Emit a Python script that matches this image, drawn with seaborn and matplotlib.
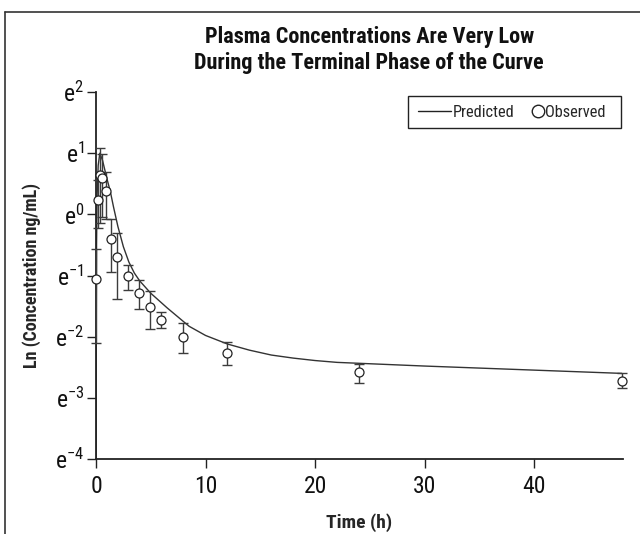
import matplotlib
matplotlib.use("Agg")
import matplotlib.pyplot as plt
import seaborn as sns
import numpy as np
import pandas as pd
from matplotlib.lines import Line2D
from matplotlib.patches import Rectangle
from matplotlib.legend_handler import HandlerLine2D
from matplotlib import font_manager

# ---------------- data (natural-log concentration units) ----------------
pred_time = [0, 0.02, 0.05, 0.1, 0.2, 0.35, 0.6, 1.0, 1.3, 1.6, 2.0, 2.5, 3.0, 3.5, 4.0,
             5.0, 6.5, 8.5, 10, 12, 14, 16, 18, 20, 22, 26, 30, 36, 42, 48]
pred_ln = [-8, -2.0, -0.5, 0.3, 0.8, 1.0, 0.88, 0.58, 0.38, 0.12, -0.2, -0.53, -0.78,
           -0.96, -1.09, -1.29, -1.53, -1.83, -1.98, -2.12, -2.22, -2.30, -2.35, -2.39,
           -2.42, -2.45, -2.48, -2.52, -2.56, -2.60]

obs_time = [0, 0.15, 0.35, 0.55, 0.9, 1.4, 1.9, 2.9, 3.9, 4.9, 5.9, 7.9, 12, 24, 48]
obs_ln = [-1.06, 0.24, 0.65, 0.60, 0.38, -0.41, -0.70, -1.00, -1.28, -1.51, -1.72, -2.00,
          -2.26, -2.58, -2.72]
obs_lo_ln = [-2.11, -0.23, -0.14, -0.05, -0.07, -0.95, -1.39, -1.24, -1.54, -1.88, -1.85,
             -2.26, -2.47, -2.75, -2.84]
obs_hi_ln = [-0.56, 0.56, 1.09, 0.99, 0.69, -0.07, -0.30, -0.82, -1.08, -1.26, -1.60,
             -1.78, -2.09, -2.44, -2.60]

ytick_vals = [2, 1, 0, -1, -2, -3, -4]
xtick_vals = [0, 10, 20, 30, 40]
title_text = "Plasma Concentrations Are Very Low\nDuring the Terminal Phase of the Curve"
xlabel_text = "Time (h)"
ylabel_text = "Ln (Concentration ng/mL)"
legend_labels = ["Predicted", "Observed"]

# ---------------- style ----------------
sns.set_theme(style="ticks")
available = {f.name for f in font_manager.fontManager.ttflist}
candidates = ["Liberation Sans Narrow", "Roboto Condensed", "DejaVu Sans Condensed",
              "Open Sans Condensed", "Roboto", "Liberation Sans", "DejaVu Sans"]
FAM = [c for c in candidates if c in available] or ["DejaVu Sans"]
plt.rcParams["font.family"] = FAM
plt.rcParams["axes.unicode_minus"] = True

W, H = 640, 534
fig = plt.figure(figsize=(W / 100, H / 100), dpi=100)
ax = fig.add_axes([0.15, 0.1404, 0.8234, 0.6873])

pred_df = pd.DataFrame({"t": pred_time, "ln": pred_ln})
obs_df = pd.DataFrame({"t": obs_time, "ln": obs_ln, "lo": obs_lo_ln, "hi": obs_hi_ln})

sns.lineplot(data=pred_df, x="t", y="ln", ax=ax, color="#333333", linewidth=1.0,
             sort=False, zorder=2)

yerr = np.vstack([obs_df["ln"] - obs_df["lo"], obs_df["hi"] - obs_df["ln"]])
ax.errorbar(obs_df["t"], obs_df["ln"], yerr=yerr, fmt="none", ecolor="#3c3c3c",
            elinewidth=1.0, capsize=3.8, capthick=1.0, zorder=3, clip_on=False)

sns.scatterplot(data=obs_df, x="t", y="ln", ax=ax, marker="o", s=42,
                facecolor="white", edgecolor="#222222", linewidth=0.9,
                zorder=4, clip_on=False, legend=False)

ax.set_xlim(0, 48.1)
ax.set_ylim(-4, 2)
ax.set_xticks(xtick_vals)
ax.set_xticklabels([str(v) for v in xtick_vals], fontsize=17)
ax.set_yticks(ytick_vals)
ax.set_yticklabels([r"$\mathregular{e^{%d}}$" % v if v >= 0 else
                    r"$\mathregular{e^{-%d}}$" % (-v) for v in ytick_vals], fontsize=17)
for s in ["top", "right"]:
    ax.spines[s].set_visible(False)
for s in ["left", "bottom"]:
    ax.spines[s].set_linewidth(1.3)
    ax.spines[s].set_color("#222222")
ax.tick_params(axis="both", direction="out", length=6.5, width=1.0, color="#222222",
               labelcolor="#111111")
ax.tick_params(axis="x", pad=5)
ax.tick_params(axis="y", pad=2)

ax.set_xlabel(xlabel_text, fontsize=14, fontweight="bold", labelpad=11)
ax.set_ylabel(ylabel_text, fontsize=13, fontweight="bold", labelpad=10)

fig.text(0.577, 0.906, title_text, ha="center", va="center", fontsize=16,
         fontweight="bold", linespacing=1.25, color="#111111")


class RightMarkerHandler(HandlerLine2D):
    """Single legend marker placed near the right end of the handle area."""
    def get_xdata(self, legend, xdescent, ydescent, width, height, fontsize):
        b = width - xdescent
        m = b - 0.3 * fontsize
        return np.array([2 * m - b, b]), np.array([m])


line_handle = Line2D([0], [0], color="#222222", lw=1.0)
obs_handle = Line2D([0], [0], marker="o", linestyle="none", markerfacecolor="white",
                    markeredgecolor="#222222", markersize=9.0, markeredgewidth=1.0)
leg = ax.legend([line_handle, obs_handle], legend_labels, ncol=2, loc="center left",
                bbox_to_anchor=(418 / W, 1 - 112 / H),
                bbox_transform=fig.transFigure, fontsize=11.8, frameon=False,
                handlelength=2.0, handletextpad=0.12, columnspacing=-0.26,
                borderpad=0.0, borderaxespad=0.0,
                handler_map={obs_handle: RightMarkerHandler(numpoints=1)})

# legend frame
fig.add_artist(Rectangle((408 / W, 1 - 128 / H), 213 / W, 32 / H,
                         transform=fig.transFigure, fill=False,
                         edgecolor="#222222", linewidth=1.0))

# figure border (top and left)
fig.add_artist(Line2D([5 / W, 1.0], [1 - 12 / H, 1 - 12 / H],
                      transform=fig.transFigure, color="#333333", lw=1.2))
fig.add_artist(Line2D([5 / W, 5 / W], [0, 1 - 12 / H],
                      transform=fig.transFigure, color="#333333", lw=1.2))

fig.savefig("out.png", dpi=100)
